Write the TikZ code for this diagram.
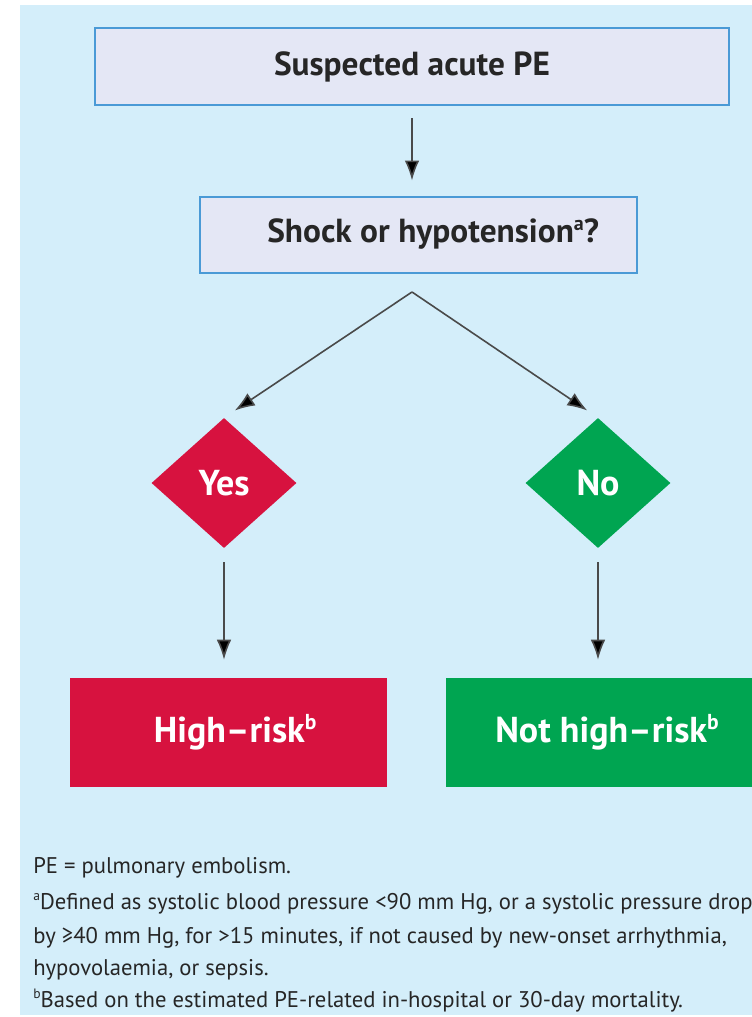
\documentclass[tikz,border=0pt]{standalone}
\usepackage{fontspec}
\setmainfont{PT Sans}
\usetikzlibrary{shapes.geometric,arrows.meta}
\newdimen\pxu \pxu=0.75pt
\definecolor{bgblue}{HTML}{D4EEFA}
\definecolor{boxfill}{HTML}{E4E7F5}
\definecolor{boxline}{HTML}{4A9AD6}
\definecolor{redc}{HTML}{D7123F}
\definecolor{greenc}{HTML}{00A551}
\definecolor{arrowc}{HTML}{4A4A4A}
\newcommand{\supr}[1]{\raisebox{0.36em}{\scalebox{0.6}{#1}}}
\tikzset{
  qbox/.style={draw=boxline, line width=1.5pt, fill=boxfill, inner sep=0pt,
    font=\fontsize{25pt}{28pt}\selectfont\bfseries, text=black!85},
  outbox/.style={fill=#1, inner sep=0pt, text=white,
    font=\fontsize{27pt}{30pt}\selectfont\bfseries, minimum height=109\pxu},
  dia/.style={diamond, fill=#1, inner sep=0pt, text=white,
    minimum width=145\pxu, minimum height=130\pxu,
    font=\fontsize{27pt}{30pt}\selectfont\bfseries},
  arr/.style={draw=arrowc, line width=1.2pt, -{Latex[length=15pt,width=11pt,fill=black]}},
  foot/.style={anchor=base west, inner sep=0pt, font=\fontsize{17pt}{20pt}\selectfont, text=black!85}
}
\begin{document}
\begin{tikzpicture}[x=0.75pt,y=-0.75pt]
\useasboundingbox (0,0) rectangle (752,1017);
\fill[bgblue] (20,5) rectangle (752,1015);
\node[qbox, minimum width=634\pxu, minimum height=77\pxu] (pe) at (412,66.5) {Suspected acute PE\hspace{14pt}};
\node[qbox, minimum width=437\pxu, minimum height=76\pxu] (shock) at (418.5,234.5) {\hspace{22pt}Shock or hypotension\supr{a}?};
\coordinate (split) at (412,292);
\node[dia=redc] (yes) at (224,483) {Yes};
\node[dia=greenc] (no) at (598,483) {No};
\node[outbox=redc, minimum width=317\pxu] (high) at (228.5,732.5) {\hspace{10pt}High--risk\supr{b}};
\node[outbox=greenc, minimum width=306\pxu] (nothigh) at (599,732.5) {\hspace{12pt}Not high--risk\supr{b}};
\draw[arr, shorten <=12\pxu, shorten >=15\pxu] (pe) -- (pe.south |- shock.north);
\draw[arr, shorten >=13\pxu] (split) -- (yes.north);
\draw[arr, shorten >=13\pxu] (split) -- (no.north);
\draw[arr, shorten <=14\pxu, shorten >=18\pxu] (yes.south) -- (yes.south |- high.north);
\draw[arr, shorten <=14\pxu, shorten >=18\pxu] (no.south) -- (no.south |- nothigh.north);
\node[foot] (f1) at (33,873) {PE = pulmonary embolism.};
\node[foot] (f2) at (33,909) {\supr{a}Defined as systolic blood pressure <90 mm Hg, or a systolic pressure drop};
\node[foot] (f3) at (33,943) {by ≥40 mm Hg, for >15 minutes, if not caused by new-onset arrhythmia,};
\node[foot] (f4) at (33,975) {hypovolaemia, or sepsis.};
\node[foot] (f5) at (33,1007) {\supr{b}Based on the estimated PE-related in-hospital or 30-day mortality.};
\end{tikzpicture}
\end{document}
